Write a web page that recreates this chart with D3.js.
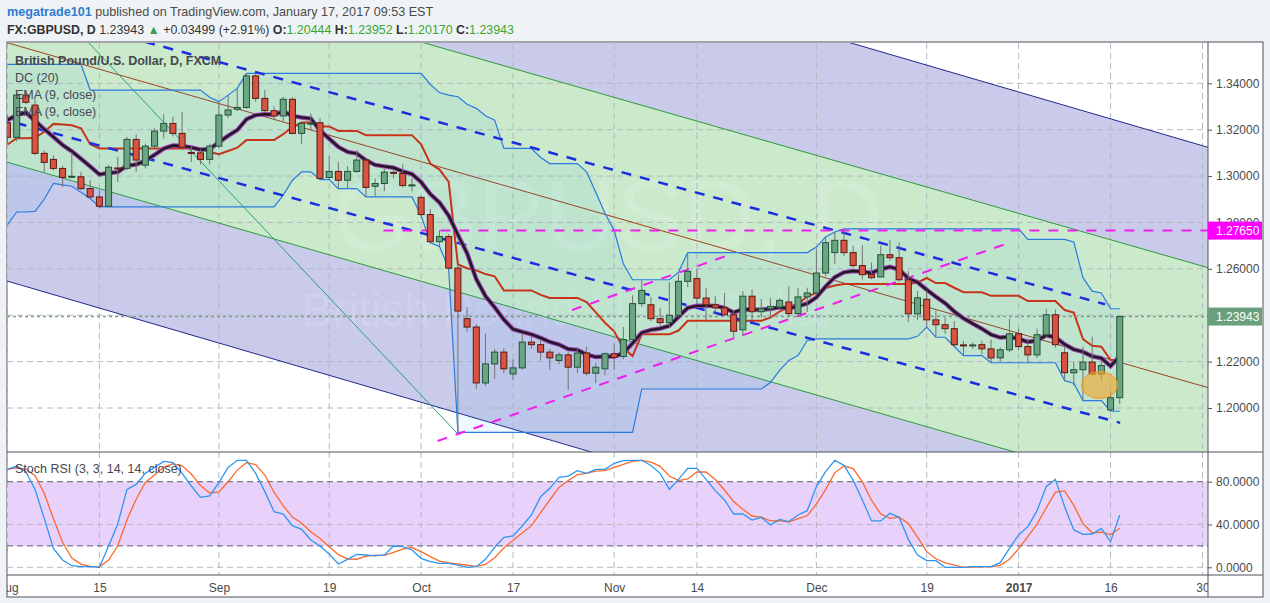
<!DOCTYPE html>
<html>
<head>
<meta charset="utf-8">
<script src="https://cdn.jsdelivr.net/npm/d3@7"></script>
<style>
  body { margin:0; background:#f0f3f6; font-family:"Liberation Sans", Arial, sans-serif; }
  svg { display:block; }
  .grid line { stroke:#b4b8bf; stroke-dasharray:6,4; stroke-width:1; }
  .yaxis text, .oaxis text, .xaxis text { font-family:"Liberation Sans", Arial, sans-serif; font-size:12px; fill:#4a4a4a; }
  .yaxis line, .oaxis line { stroke:#555; }
  .yaxis path, .oaxis path, .xaxis path { display:none; }
  .legend { font-size:12.5px; fill:#45484f; }
</style>
</head>
<body>
<svg id="chart" width="1270" height="603"></svg>
<script>
//----------- DATA ------------------------------------------//
// bar 0 = Aug 1 2016, bar 121 = Jan 17 2017 (daily bars, weekdays)
var tickIdx    = [0, 10, 23, 35, 45, 55, 66, 75, 88, 100, 110, 120, 130];
var tickLabels = ["Aug","15","Sep","19","Oct","17","Nov","14","Dec","19","2017","16","30"];
var priceTicks = [1.20, 1.22, 1.24, 1.26, 1.28, 1.30, 1.32, 1.34];
var oscTicks   = [0, 40, 80];

var opens = [1.3230,1.3167,1.3349,1.3306,1.3098,1.3072,1.3033,1.2995,1.2997,1.2946,
  1.2910,1.2870,1.3035,1.3033,1.3158,1.3047,1.3129,1.3194,1.3227,1.3184,
  1.3102,1.3100,1.3072,1.3129,1.3263,1.3288,1.3296,1.3432,1.3335,1.3282,
  1.3259,1.3331,1.3184,1.3225,1.3230,1.2994,1.3020,1.2982,1.3020,1.3069,
  1.2956,1.2968,1.3016,1.3011,1.2959,1.2908,1.2834,1.2717,1.2739,1.2603,
  1.2385,1.2349,1.2108,1.2190,1.2241,1.2147,1.2173,1.2284,1.2273,1.2241,
  1.2205,1.2229,1.2176,1.2237,1.2150,1.2169,1.2234,1.2222,1.2295,1.2450,
  1.2445,1.2385,1.2368,1.2400,1.2546,1.2558,1.2474,1.2445,1.2432,1.2402,
  1.2337,1.2482,1.2415,1.2428,1.2435,1.2457,1.2407,1.2479,1.2496,1.2582,
  1.2670,1.2723,1.2670,1.2614,1.2575,1.2565,1.2661,1.2648,1.2553,1.2406,
  1.2469,1.2380,1.2359,1.2342,1.2272,1.2268,1.2273,1.2255,1.2216,1.2251,
  1.2320,1.2265,1.2229,1.2316,1.2402,1.2238,1.2152,1.2165,1.2198,1.2147,
  1.1992,1.20444];
var highs = [1.3262,1.3360,1.3370,1.3330,1.3110,1.3090,1.3045,1.3105,1.3018,1.2982,
  1.2939,1.3047,1.3083,1.3169,1.3180,1.3140,1.3206,1.3266,1.3256,1.3277,
  1.3133,1.3115,1.3140,1.3321,1.3349,1.3378,1.3443,1.3440,1.3371,1.3300,
  1.3342,1.3340,1.3235,1.3270,1.3250,1.3086,1.3060,1.3043,1.3112,1.3080,
  1.2990,1.3030,1.3030,1.3051,1.2990,1.2915,1.2858,1.2767,1.2750,1.2620,
  1.2435,1.2360,1.2320,1.2255,1.2258,1.2210,1.2320,1.2310,1.2290,1.2255,
  1.2240,1.2240,1.2255,1.2265,1.2195,1.2240,1.2279,1.2349,1.2486,1.2550,
  1.2478,1.2432,1.2543,1.2579,1.2666,1.2600,1.2519,1.2482,1.2496,1.2420,
  1.2504,1.2510,1.2470,1.2475,1.2475,1.2525,1.2519,1.2519,1.2687,1.2740,
  1.2759,1.2774,1.2700,1.2702,1.2627,1.2700,1.2723,1.2715,1.2590,1.2504,
  1.2507,1.2420,1.2390,1.2375,1.2289,1.2282,1.2290,1.2295,1.2262,1.2385,
  1.2342,1.2300,1.2342,1.2428,1.2424,1.2265,1.2200,1.2265,1.2308,1.2205,
  1.2075,1.23952];
var lows = [1.3140,1.3150,1.3310,1.3090,1.3018,1.3025,1.2953,1.2990,1.2940,1.2905,
  1.2862,1.2865,1.2975,1.3025,1.3018,1.3033,1.3120,1.3162,1.3170,1.3115,
  1.3061,1.3050,1.3050,1.3120,1.3250,1.3280,1.3290,1.3321,1.3275,1.3241,
  1.3236,1.3180,1.3137,1.3200,1.2985,1.2985,1.2946,1.2946,1.3015,1.2910,
  1.2915,1.2935,1.2990,1.2950,1.2935,1.2830,1.2712,1.2696,1.2600,1.1895,
  1.2330,1.2082,1.2095,1.2126,1.2150,1.2120,1.2165,1.2255,1.2205,1.2165,
  1.2190,1.2078,1.2150,1.2140,1.2107,1.2140,1.2164,1.2210,1.2290,1.2436,
  1.2375,1.2355,1.2349,1.2390,1.2521,1.2450,1.2378,1.2410,1.2395,1.2303,
  1.2310,1.2380,1.2390,1.2385,1.2430,1.2395,1.2395,1.2414,1.2490,1.2570,
  1.2622,1.2655,1.2605,1.2555,1.2555,1.2565,1.2635,1.2545,1.2370,1.2380,
  1.2349,1.2308,1.2320,1.2265,1.2225,1.2255,1.2231,1.2193,1.2200,1.2240,
  1.2248,1.2193,1.2215,1.2305,1.2260,1.2118,1.2097,1.2032,1.2140,1.2115,
  1.1986,1.20170];
var closes = [1.3167,1.3349,1.3318,1.3098,1.3059,1.3033,1.2994,1.2999,1.2946,1.2910,
  1.2870,1.3038,1.3031,1.3158,1.3069,1.3129,1.3194,1.3227,1.3184,1.3124,
  1.3098,1.3072,1.3129,1.3263,1.3285,1.3296,1.3432,1.3335,1.3282,1.3259,
  1.3331,1.3184,1.3227,1.3228,1.2990,1.3020,1.2982,1.3020,1.3069,1.2951,
  1.2968,1.3017,1.3012,1.2959,1.2962,1.2834,1.2717,1.2739,1.2603,1.2418,
  1.2349,1.2108,1.2190,1.2241,1.2169,1.2173,1.2284,1.2273,1.2241,1.2216,
  1.2229,1.2176,1.2237,1.2150,1.2176,1.2234,1.2218,1.2295,1.2450,1.2507,
  1.2385,1.2368,1.2400,1.2546,1.2589,1.2474,1.2445,1.2432,1.2402,1.2331,
  1.2482,1.2415,1.2428,1.2438,1.2464,1.2407,1.2479,1.2496,1.2582,1.2713,
  1.2723,1.2670,1.2614,1.2575,1.2562,1.2661,1.2648,1.2553,1.2406,1.2475,
  1.2380,1.2359,1.2342,1.2273,1.2268,1.2272,1.2255,1.2216,1.2251,1.2320,
  1.2265,1.2229,1.2316,1.2402,1.2273,1.2152,1.2165,1.2198,1.2147,1.2183,
  1.2044,1.23943];

// Donchian channel (20) upper / lower as plotted
var dcUpper = [1.3482,1.3482,1.3482,1.3482,1.3482,1.3482,1.3482,1.3482,1.3482,1.3371,
  1.3371,1.3371,1.3371,1.3371,1.3371,1.3371,1.3371,1.3371,1.3371,1.3371,
  1.3371,1.3371,1.3340,1.3321,1.3349,1.3378,1.3443,1.3443,1.3443,1.3443,
  1.3443,1.3443,1.3443,1.3443,1.3443,1.3443,1.3443,1.3443,1.3443,1.3443,
  1.3443,1.3443,1.3443,1.3443,1.3443,1.3443,1.3395,1.3360,1.3349,1.3342,
  1.3310,1.3292,1.3260,1.3241,1.3119,1.3119,1.3119,1.3119,1.3080,1.3054,
  1.3054,1.3054,1.3054,1.3018,1.2930,1.2840,1.2766,1.2622,1.2553,1.2553,
  1.2553,1.2553,1.2553,1.2586,1.2670,1.2670,1.2670,1.2670,1.2670,1.2670,
  1.2670,1.2670,1.2670,1.2670,1.2670,1.2670,1.2670,1.2670,1.2694,1.2737,
  1.2759,1.2772,1.2772,1.2772,1.2772,1.2772,1.2772,1.2772,1.2772,1.2772,
  1.2772,1.2772,1.2772,1.2772,1.2772,1.2772,1.2772,1.2772,1.2772,1.2772,
  1.2772,1.2727,1.2727,1.2727,1.2727,1.2727,1.2716,1.2562,1.2504,1.2496,
  1.2428,1.2428];
var dcLower = [1.2790,1.2845,1.2845,1.2848,1.2900,1.2968,1.2962,1.2956,1.2930,1.2903,
  1.2867,1.2867,1.2867,1.2867,1.2867,1.2867,1.2867,1.2867,1.2867,1.2867,
  1.2867,1.2867,1.2867,1.2867,1.2867,1.2867,1.2867,1.2867,1.2867,1.2867,
  1.2918,1.2982,1.3018,1.3018,1.2985,1.2985,1.2946,1.2946,1.2946,1.2910,
  1.2910,1.2910,1.2910,1.2910,1.2910,1.2830,1.2712,1.2696,1.2600,1.1895,
  1.1895,1.1895,1.1895,1.1895,1.1895,1.1895,1.1895,1.1895,1.1895,1.1895,
  1.1895,1.1895,1.1895,1.1895,1.1895,1.1895,1.1895,1.1895,1.1895,1.2082,
  1.2082,1.2082,1.2082,1.2082,1.2082,1.2082,1.2082,1.2082,1.2082,1.2082,
  1.2082,1.2082,1.2082,1.2110,1.2162,1.2205,1.2226,1.2291,1.2298,1.2298,
  1.2298,1.2298,1.2298,1.2298,1.2298,1.2298,1.2298,1.2298,1.2298,1.2309,
  1.2349,1.2305,1.2305,1.2265,1.2226,1.2226,1.2226,1.2195,1.2195,1.2195,
  1.2195,1.2195,1.2195,1.2195,1.2195,1.2118,1.2107,1.2032,1.2032,1.2032,
  1.1986,1.1986];
var emaStart = 1.3241;   // EMA(9) value read at first visible bar

// Stoch RSI %K as plotted
var stochK = [91.5,94.6,89.3,72.8,45.7,17.7,6.8,1.5,0.6,0.6,
  0,19.9,40.5,72.8,77.5,87.8,93.4,99,97.8,87.8,
  76,65.4,66.7,79.1,93.4,100,100,87.8,70.7,52,
  49.8,38.9,35.5,25.5,19.9,12.4,3.1,7.4,12.1,11.5,
  10.6,11.5,19.9,19.3,16.2,8.4,5.3,3.7,3.7,2.1,
  0,0.6,7.4,18.7,28,29.3,38.6,48.9,66,73.8,
  84.1,85.3,90.3,87.8,91.5,91.5,97.2,99.7,100,100,
  95.1,87.8,72.9,82.2,92.5,92.5,82.2,71.6,62.9,49.8,
  49.8,44.2,46.7,39.5,44.8,42.7,48.9,52.9,75.4,89.4,
  100,95.3,81.3,62.9,43.3,43.3,50.4,46.7,26.1,11.5,
  6.2,6.2,0,0,0,0.6,0.6,0.6,4.3,17.7,
  30.2,38,52.9,75.4,82.2,56.7,34.9,30.8,31.1,36.4,
  24,48.9];

// drawings: [bar, price] anchors
var navyUpper   = [[116.7, 1.3285], [130.6, 1.3124]];
var navyLower   = [[31.8, 1.2178], [116.7, 1.1193]];
var greenUpper  = [[116.7, 1.2763], [130.6, 1.2605]];
var greenLower  = [[0.05, 1.3059], [116.7, 1.1729]];
var dashUpper   = [[5, 1.3687], [119.4, 1.2447]];
var dashLower   = [[-1, 1.3250], [121.05, 1.1936]];
var magentaLow  = [[46.8, 1.1858], [108.9, 1.2711]];
var magentaHigh = [[61.4, 1.2422], [78.8, 1.2664]];
var magentaLevel = [40.9, 1.2765];
var tealLine    = [[6, 1.3694], [48.9, 1.1892]];
var markCenter  = [118.8, 1.2099];
var markRadius  = [1.96, 0.0058];

//----------- LAYOUT ---------------------------------------//
var svg = d3.select("#chart");
var left = 7, right = 1208, axisEdge = 1263;
var mainTop = 43, mainBottom = 452, oscBottom = 575, frameBottom = 597;

var x  = d3.scaleLinear().domain([-0.05, 130.6]).range([left, right]);
var y  = d3.scaleLinear().domain([1.20, 1.34]).range([408, 83.3]);
var yo = d3.scaleLinear().domain([0, 80]).range([567.3, 481.7]);

var bars = d3.range(closes.length).map(function(i) {
  return {i:i, o:opens[i], h:highs[i], l:lows[i], c:closes[i], up:dcUpper[i], lo:dcLower[i]};
});

// EMA(9) of close, DC basis, %D = sma3(%K)
var k = 2 / 10, e = emaStart;
bars.forEach(function(d, i) {
  if (i > 0) e = e + k * (d.c - e);
  d.ema = e;
  d.basis = (d.up + d.lo) / 2;
  d.k = stochK[i];
  d.d = d3.mean(stochK.slice(Math.max(0, i - 2), i + 1));
});

// frame
svg.append("rect").attr("x", left).attr("y", 42).attr("width", axisEdge - left).attr("height", frameBottom - 42)
  .attr("fill", "#fff").attr("stroke", "#50535e").attr("stroke-width", 1);

var defs = svg.append("defs");
defs.append("clipPath").attr("id", "clipMain").append("rect")
  .attr("x", left).attr("y", mainTop).attr("width", right - left).attr("height", mainBottom - mainTop);
defs.append("clipPath").attr("id", "clipOsc").append("rect")
  .attr("x", left).attr("y", mainBottom).attr("width", right - left).attr("height", oscBottom - mainBottom);
defs.append("clipPath").attr("id", "clipAxis").append("rect")
  .attr("x", left).attr("y", oscBottom).attr("width", right - left).attr("height", frameBottom - oscBottom);

//----------- HELPERS --------------------------------------//
function lineAt(pts, bar) {
  var s = (pts[1][1] - pts[0][1]) / (pts[1][0] - pts[0][0]);
  return pts[0][1] + s * (bar - pts[0][0]);
}
function bandPoly(a, b) {
  var b0 = -3, b1 = 134;
  return [[x(b0), y(lineAt(a, b0))], [x(b1), y(lineAt(a, b1))], [x(b1), y(lineAt(b, b1))], [x(b0), y(lineAt(b, b0))]];
}
function extLine(g, pts, color, w, dash) {
  g.append("line")
    .attr("x1", x(-3)).attr("y1", y(lineAt(pts, -3)))
    .attr("x2", x(134)).attr("y2", y(lineAt(pts, 134)))
    .attr("stroke", color).attr("stroke-width", w).attr("stroke-dasharray", dash || null);
}
function segLine(g, pts, color, w, dash) {
  g.append("line")
    .attr("x1", x(pts[0][0])).attr("y1", y(pts[0][1]))
    .attr("x2", x(pts[1][0])).attr("y2", y(pts[1][1]))
    .attr("stroke", color).attr("stroke-width", w).attr("stroke-dasharray", dash || null);
}

//----------- MAIN PANE ------------------------------------//
var main = svg.append("g").attr("clip-path", "url(#clipMain)");

// regression channels
main.append("polygon").attr("points", bandPoly(navyUpper, navyLower).join(" ")).attr("fill", "#cacbea");
main.append("polygon").attr("points", bandPoly(greenUpper, greenLower).join(" ")).attr("fill", "#cbeacc");

// watermark
main.append("text").attr("x", 333).attr("y", 250)
  .style("font-size", "100px").style("font-family", "Liberation Sans, Arial").attr("fill", "rgba(255,255,255,0.12)")
  .text("GBPUSD, D");
main.append("text").attr("x", 302).attr("y", 326)
  .style("font-size", "46px").style("font-family", "Liberation Sans, Arial").attr("fill", "rgba(255,255,255,0.12)")
  .text("British Pound / U.S. Dollar");

// grid
var grid = main.append("g").attr("class", "grid");
grid.selectAll(".v").data(tickIdx).enter().append("line")
  .attr("x1", function(d) { return x(d); }).attr("x2", function(d) { return x(d); })
  .attr("y1", mainTop).attr("y2", mainBottom);
grid.selectAll(".h").data(priceTicks).enter().append("line")
  .attr("x1", left).attr("x2", right)
  .attr("y1", function(d) { return y(d); }).attr("y2", function(d) { return y(d); });

// channel lines
extLine(main, navyUpper, "#1f2a8c", 1);
extLine(main, navyLower, "#1f2a8c", 1);
extLine(main, greenUpper, "#2f9a3a", 1);
extLine(main, greenLower, "#2f9a3a", 1);
var greenMid = [[0, (lineAt(greenUpper, 0) + lineAt(greenLower, 0)) / 2], [120, (lineAt(greenUpper, 120) + lineAt(greenLower, 120)) / 2]];
extLine(main, greenMid, "#a0411f", 1);
segLine(main, tealLine, "#2a9d84", 1);

// donchian fill + lines
main.append("path").datum(bars)
  .attr("d", d3.area().x(function(d) { return x(d.i); }).y0(function(d) { return y(d.lo); }).y1(function(d) { return y(d.up); }))
  .attr("fill", "rgba(33,150,243,0.07)");
var dcLine = function(key) { return d3.line().x(function(d) { return x(d.i); }).y(function(d) { return y(d[key]); }); };
main.append("path").datum(bars).attr("d", dcLine("up")).attr("fill", "none").attr("stroke", "#2a7be0").attr("stroke-width", 1.2);
main.append("path").datum(bars).attr("d", dcLine("lo")).attr("fill", "none").attr("stroke", "#2a7be0").attr("stroke-width", 1.2);
main.append("path").datum(bars).attr("d", dcLine("basis")).attr("fill", "none").attr("stroke", "#c8341a").attr("stroke-width", 2);

// dashed trend channel + magenta drawings
segLine(main, dashUpper, "#1a2ee0", 2.5, "10,9");
segLine(main, dashLower, "#1a2ee0", 2.5, "10,9");
segLine(main, magentaLow, "#f01df0", 2, "10,9");
segLine(main, magentaHigh, "#f01df0", 2, "10,9");
main.append("line").attr("x1", x(magentaLevel[0])).attr("x2", right)
  .attr("y1", y(magentaLevel[1])).attr("y2", y(magentaLevel[1]))
  .attr("stroke", "#f01df0").attr("stroke-width", 2).attr("stroke-dasharray", "10,9");

// last price line
main.append("line").attr("x1", left).attr("x2", right)
  .attr("y1", y(closes[closes.length - 1])).attr("y2", y(closes[closes.length - 1]))
  .attr("stroke", "#7a9e86").attr("stroke-width", 1.5).attr("stroke-dasharray", "3,3");

// EMA (two overlapping: purple + black)
var emaLine = d3.line().x(function(d) { return x(d.i); }).y(function(d) { return y(d.ema); });
main.append("path").datum(bars).attr("d", emaLine).attr("fill", "none").attr("stroke", "#a03cb8").attr("stroke-width", 4.5);
main.append("path").datum(bars).attr("d", emaLine).attr("fill", "none").attr("stroke", "#1b1b1b").attr("stroke-width", 2.4);

// candles
var candle = main.append("g").selectAll("g").data(bars).enter().append("g");
candle.append("line")
  .attr("x1", function(d) { return x(d.i); }).attr("x2", function(d) { return x(d.i); })
  .attr("y1", function(d) { return y(d.h); }).attr("y2", function(d) { return y(d.l); })
  .attr("stroke", "#737373").attr("stroke-width", 1);
candle.append("rect")
  .attr("x", function(d) { return x(d.i) - 3; })
  .attr("width", 6)
  .attr("y", function(d) { return y(Math.max(d.o, d.c)); })
  .attr("height", function(d) { return Math.max(1, Math.abs(y(d.o) - y(d.c))); })
  .attr("fill", function(d) { return d.c >= d.o ? "#6ba583" : "#d75442"; })
  .attr("stroke", function(d) { return d.c >= d.o ? "#225437" : "#5b1a13"; })
  .attr("stroke-width", 1);

// orange marker
main.append("ellipse")
  .attr("cx", x(markCenter[0])).attr("cy", y(markCenter[1]))
  .attr("rx", x(markCenter[0] + markRadius[0]) - x(markCenter[0]))
  .attr("ry", y(markCenter[1] - markRadius[1]) - y(markCenter[1]))
  .attr("fill", "rgba(245,165,40,0.6)").attr("stroke", "#f59a1b").attr("stroke-width", 1);

// legend
var leg = svg.append("g").attr("class", "legend");
leg.append("text").attr("x", 15).attr("y", 65).style("font-weight", "bold").text("British Pound/U.S. Dollar, D, FXCM");
leg.append("text").attr("x", 15).attr("y", 82).text("DC (20)");
leg.append("text").attr("x", 15).attr("y", 99).text("EMA (9, close)");
leg.append("text").attr("x", 15).attr("y", 116).text("EMA (9, close)");

//----------- OSCILLATOR PANE ------------------------------//
var osc = svg.append("g").attr("clip-path", "url(#clipOsc)");
osc.append("rect").attr("x", left).attr("width", right - left)
  .attr("y", yo(80)).attr("height", yo(20) - yo(80)).attr("fill", "#e8d1fb");
var ogrid = osc.append("g").attr("class", "grid");
ogrid.selectAll(".v").data(tickIdx).enter().append("line")
  .attr("x1", function(d) { return x(d); }).attr("x2", function(d) { return x(d); })
  .attr("y1", mainBottom).attr("y2", oscBottom);
ogrid.selectAll(".h").data([0, 40]).enter().append("line")
  .attr("x1", left).attr("x2", right)
  .attr("y1", function(d) { return yo(d); }).attr("y2", function(d) { return yo(d); });
osc.selectAll(".band").data([80, 20]).enter().append("line")
  .attr("x1", left).attr("x2", right)
  .attr("y1", function(d) { return yo(d); }).attr("y2", function(d) { return yo(d); })
  .attr("stroke", "#5c5c6e").attr("stroke-width", 1).attr("stroke-dasharray", "6,4");
osc.append("path").datum(bars)
  .attr("d", d3.line().x(function(d) { return x(d.i); }).y(function(d) { return yo(d.d); }))
  .attr("fill", "none").attr("stroke", "#fb6a2c").attr("stroke-width", 1.3);
osc.append("path").datum(bars)
  .attr("d", d3.line().x(function(d) { return x(d.i); }).y(function(d) { return yo(d.k); }))
  .attr("fill", "none").attr("stroke", "#2e96f0").attr("stroke-width", 1.3);
svg.append("text").attr("class", "legend").attr("x", 15).attr("y", 473).text("Stoch RSI (3, 3, 14, 14, close)");

//----------- AXES -----------------------------------------//
svg.append("line").attr("x1", left).attr("x2", axisEdge).attr("y1", mainBottom).attr("y2", mainBottom).attr("stroke", "#50535e");
svg.append("line").attr("x1", left).attr("x2", axisEdge).attr("y1", oscBottom).attr("y2", oscBottom).attr("stroke", "#50535e");
svg.append("line").attr("x1", right).attr("x2", right).attr("y1", 42).attr("y2", frameBottom).attr("stroke", "#50535e");

svg.append("g").attr("class", "yaxis").attr("transform", "translate(" + right + ",0)")
  .call(d3.axisRight(y).tickValues(priceTicks).tickFormat(d3.format(".5f")).tickSize(4).tickPadding(4));
svg.append("g").attr("class", "oaxis").attr("transform", "translate(" + right + ",0)")
  .call(d3.axisRight(yo).tickValues(oscTicks).tickFormat(d3.format(".4f")).tickSize(4).tickPadding(4));

var xa = svg.append("g").attr("class", "xaxis").attr("clip-path", "url(#clipAxis)")
  .append("g").attr("transform", "translate(0," + oscBottom + ")")
  .call(d3.axisBottom(x).tickValues(tickIdx).tickFormat(function(d, i) { return tickLabels[i]; }).tickSize(0).tickPadding(8));
xa.selectAll("text").style("font-weight", function(d, i) { return tickLabels[i] === "2017" ? "bold" : null; });

// price labels on axis
function priceTag(p, fill, label) {
  var g = svg.append("g");
  g.append("rect").attr("x", right).attr("y", y(p) - 9).attr("width", axisEdge - right - 1).attr("height", 18).attr("fill", fill);
  g.append("text").attr("x", right + 8).attr("y", y(p) + 4.5).attr("fill", "#fff")
    .style("font-size", "12px").text(label);
}
priceTag(magentaLevel[1], "#ff00ff", d3.format(".5f")(magentaLevel[1]));
priceTag(closes[closes.length - 1], "#6a9f7e", d3.format(".5f")(closes[closes.length - 1]));

//----------- HEADER ---------------------------------------//
var h1 = svg.append("text").attr("x", 7).attr("y", 16).style("font-size", "12.6px").attr("fill", "#4a4a4a");
h1.append("tspan").attr("fill", "#2e7bcf").style("font-weight", "bold").text("megatrade101");
h1.append("tspan").text(" published on TradingView.com, January 17, 2017 09:53 EST");

var last = closes.length - 1;
var h2 = svg.append("text").attr("x", 7).attr("y", 34).style("font-size", "12.4px").attr("fill", "#333");
h2.append("tspan").style("font-weight", "bold").text("FX:GBPUSD, D");
h2.append("tspan").text(" " + d3.format(".5f")(closes[last]) + " ");
h2.append("tspan").attr("fill", "#3aa14a").text("\u25B2");
h2.append("tspan").text(" +0.03499 (+2.91%) ");
var ohlc = [["O:", opens[last]], ["H:", highs[last]], ["L:", lows[last]], ["C:", closes[last]]];
ohlc.forEach(function(p, j) {
  h2.append("tspan").style("font-weight", "bold").text((j ? " " : "") + p[0]);
  h2.append("tspan").attr("fill", "#3aa52f").text(d3.format(".5f")(p[1]));
});
</script>
</body>
</html>
